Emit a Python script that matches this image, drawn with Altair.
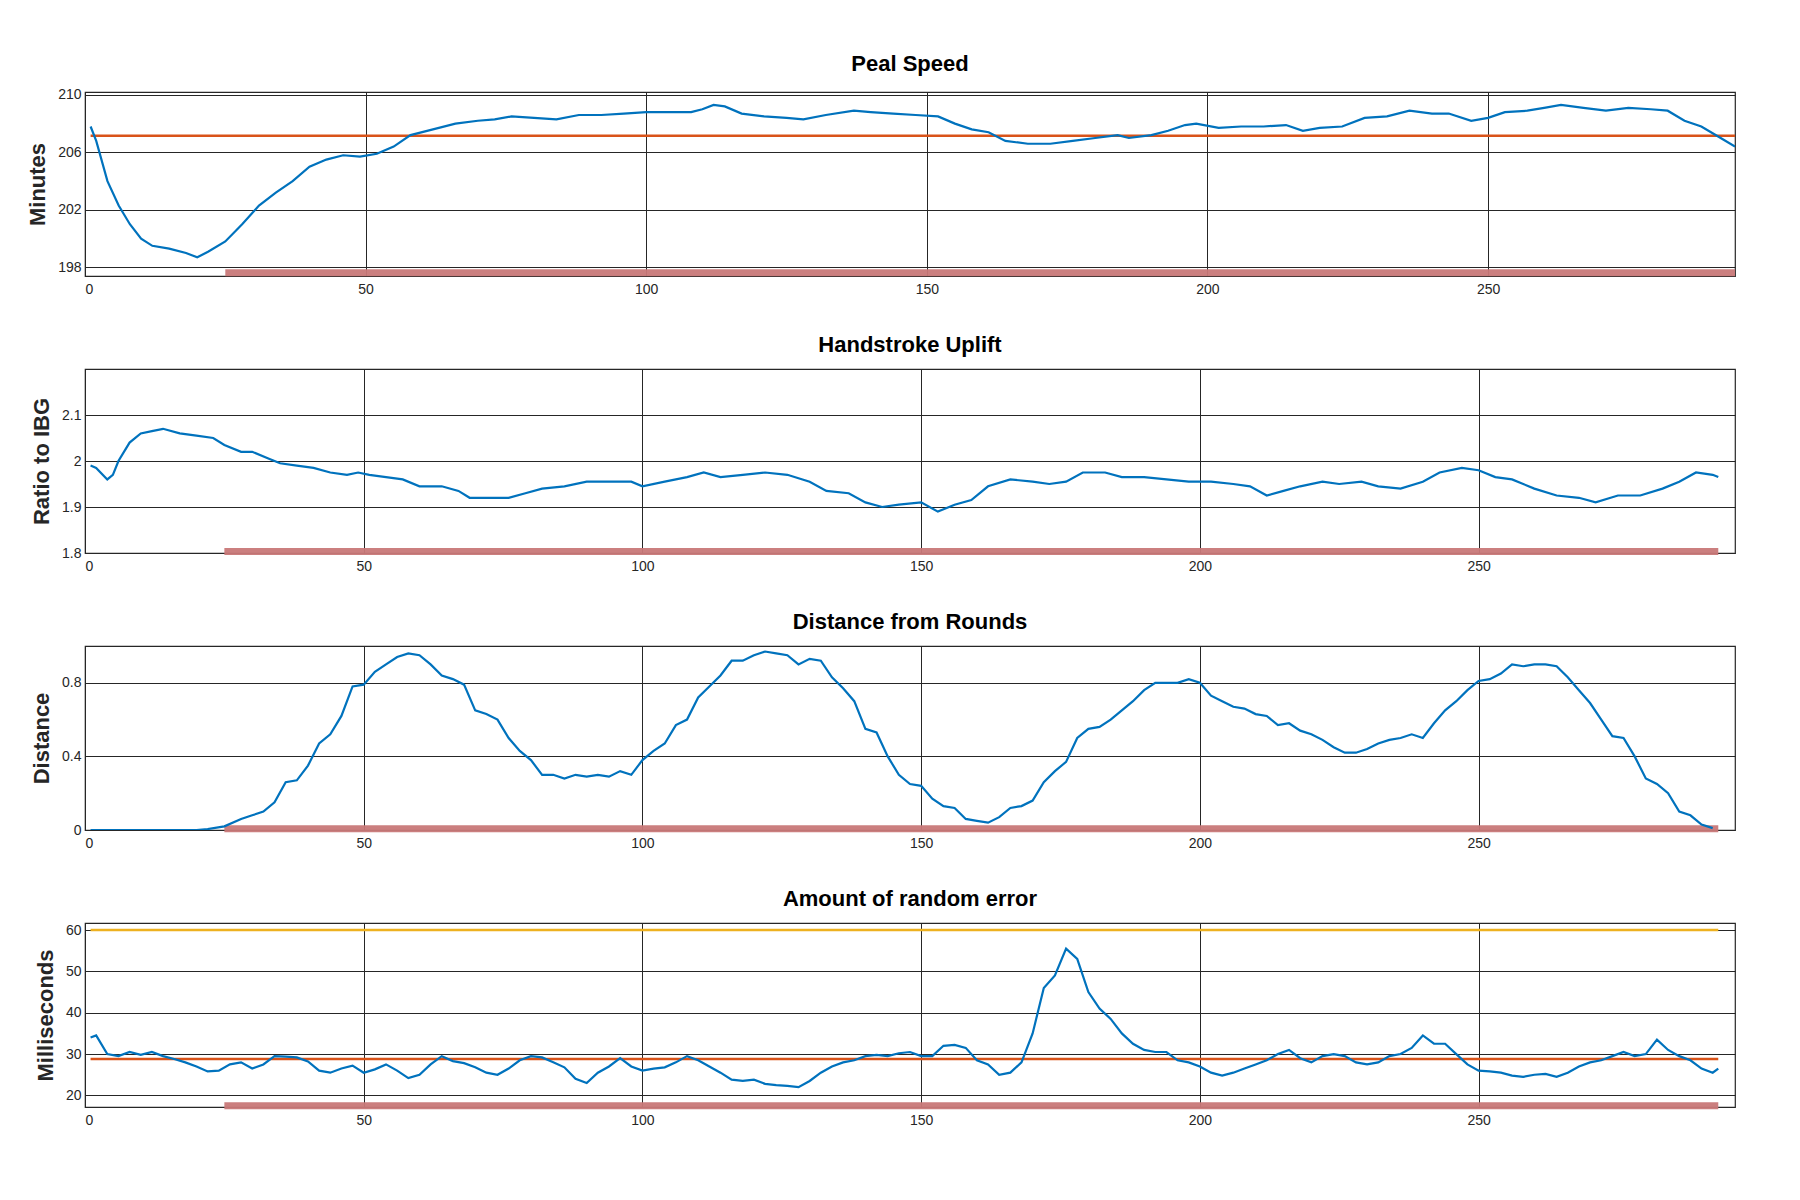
import altair as alt
import pandas as pd

# Peal Speed (minutes)
speed_x = [1, 2, 4, 6, 8, 10, 12, 15, 18, 20, 22, 25, 28, 31, 34, 37, 40, 43, 46, 49, 52, 55, 58, 62, 66, 70, 73, 76, 80, 84, 88, 92, 96, 100, 104, 108, 110, 112, 114, 117, 121, 125, 128, 132, 137, 140, 144, 148, 152, 155, 158, 161, 164, 168, 172, 176, 180, 184, 186, 190, 193, 196, 198, 202, 206, 210, 214, 217, 220, 224, 228, 232, 236, 240, 243, 247, 250, 253, 257, 260, 263, 267, 271, 275, 279, 282, 285, 288, 291, 294]
speed_y = [207.8, 206.8, 204, 202.3, 201, 200, 199.5, 199.3, 199, 198.7, 199.1, 199.8, 201, 202.3, 203.2, 204, 205, 205.5, 205.8, 205.7, 205.9, 206.4, 207.2, 207.6, 208, 208.2, 208.3, 208.5, 208.4, 208.3, 208.6, 208.6, 208.7, 208.8, 208.8, 208.8, 209, 209.3, 209.2, 208.7, 208.5, 208.4, 208.3, 208.6, 208.9, 208.8, 208.7, 208.6, 208.5, 208, 207.6, 207.4, 206.8, 206.6, 206.6, 206.8, 207, 207.2, 207.0, 207.2, 207.5, 207.9, 208, 207.7, 207.8, 207.8, 207.9, 207.5, 207.7, 207.8, 208.4, 208.5, 208.9, 208.7, 208.7, 208.2, 208.4, 208.8, 208.9, 209.1, 209.3, 209.1, 208.9, 209.1, 209.0, 208.9, 208.2, 207.8, 207.1, 206.4]

# Handstroke Uplift (ratio to IBG)
uplift_x = [1, 2, 4, 5, 6, 8, 10, 12, 14, 17, 20, 23, 25, 28, 30, 33, 35, 38, 41, 44, 47, 49, 51, 54, 57, 60, 64, 67, 69, 72, 76, 79, 82, 86, 90, 94, 98, 100, 104, 108, 111, 114, 118, 122, 126, 130, 133, 137, 140, 143, 146, 150, 153, 156, 159, 162, 166, 170, 173, 176, 179, 183, 186, 190, 194, 198, 202, 206, 209, 212, 215, 218, 222, 225, 229, 232, 236, 240, 243, 247, 250, 253, 256, 260, 264, 268, 271, 275, 279, 283, 286, 289, 292, 293]
uplift_y = [1.99, 1.985, 1.96, 1.97, 2.0, 2.04, 2.06, 2.065, 2.07, 2.06, 2.055, 2.05, 2.035, 2.02, 2.02, 2.005, 1.995, 1.99, 1.985, 1.975, 1.97, 1.975, 1.97, 1.965, 1.96, 1.945, 1.945, 1.935, 1.92, 1.92, 1.92, 1.93, 1.94, 1.945, 1.955, 1.955, 1.955, 1.945, 1.955, 1.965, 1.975, 1.965, 1.97, 1.975, 1.97, 1.955, 1.935, 1.93, 1.91, 1.9, 1.905, 1.91, 1.89, 1.905, 1.915, 1.945, 1.96, 1.955, 1.95, 1.955, 1.975, 1.975, 1.965, 1.965, 1.96, 1.955, 1.955, 1.95, 1.945, 1.925, 1.935, 1.945, 1.955, 1.95, 1.955, 1.945, 1.94, 1.955, 1.975, 1.985, 1.98, 1.965, 1.96, 1.94, 1.925, 1.92, 1.91, 1.925, 1.925, 1.94, 1.955, 1.975, 1.97, 1.965]

# Distance from Rounds
dist_x = [1, 10, 20, 22, 25, 28, 30, 32, 34, 36, 38, 40, 42, 44, 46, 48, 50, 52, 54, 56, 58, 60, 62, 64, 66, 68, 70, 72, 74, 76, 78, 80, 82, 84, 86, 88, 90, 92, 94, 96, 98, 100, 102, 104, 106, 108, 110, 112, 114, 116, 118, 120, 122, 124, 126, 128, 130, 132, 134, 136, 138, 140, 142, 144, 146, 148, 150, 152, 154, 156, 158, 160, 162, 164, 166, 168, 170, 172, 174, 176, 178, 180, 182, 184, 186, 188, 190, 192, 194, 196, 198, 200, 202, 204, 206, 208, 210, 212, 214, 216, 218, 220, 222, 224, 226, 228, 230, 232, 234, 236, 238, 240, 242, 244, 246, 248, 250, 252, 254, 256, 258, 260, 262, 264, 266, 268, 270, 272, 274, 276, 278, 280, 282, 284, 286, 288, 290, 292]
dist_y = [0, 0, 0, 0.005, 0.02, 0.06, 0.08, 0.1, 0.15, 0.26, 0.27, 0.35, 0.47, 0.52, 0.62, 0.78, 0.79, 0.86, 0.9, 0.94, 0.96, 0.95, 0.9, 0.84, 0.82, 0.79, 0.65, 0.63, 0.6, 0.5, 0.43, 0.38, 0.3, 0.3, 0.28, 0.3, 0.29, 0.3, 0.29, 0.32, 0.3, 0.38, 0.43, 0.47, 0.57, 0.6, 0.72, 0.78, 0.84, 0.92, 0.92, 0.95, 0.97, 0.96, 0.95, 0.9, 0.93, 0.92, 0.83, 0.77, 0.7, 0.55, 0.53, 0.4, 0.3, 0.25, 0.24, 0.17, 0.13, 0.12, 0.06, 0.05, 0.04, 0.07, 0.12, 0.13, 0.16, 0.26, 0.32, 0.37, 0.5, 0.55, 0.56, 0.6, 0.65, 0.7, 0.76, 0.8, 0.8, 0.8, 0.82, 0.8, 0.73, 0.7, 0.67, 0.66, 0.63, 0.62, 0.57, 0.58, 0.54, 0.52, 0.49, 0.45, 0.42, 0.42, 0.44, 0.47, 0.49, 0.5, 0.52, 0.5, 0.58, 0.65, 0.7, 0.76, 0.81, 0.82, 0.85, 0.9, 0.89, 0.9, 0.9, 0.89, 0.83, 0.76, 0.69, 0.6, 0.51, 0.5, 0.4, 0.28, 0.25, 0.2, 0.1, 0.08, 0.03, 0.01]

# Amount of random error (ms)
err_x = [1] + list(range(2, 293, 2)) + [293]
err_y = [34, 34.5, 30, 29.5, 30.5, 29.8, 30.5, 29.5, 28.8, 28, 27, 25.8, 26, 27.5, 28, 26.5, 27.5, 29.5, 29.4, 29.2, 28.2, 26, 25.5, 26.5, 27.2, 25.5, 26.3, 27.5, 26, 24.2, 25, 27.5, 29.5, 28.3, 27.8, 26.8, 25.5, 25, 26.5, 28.5, 29.5, 29.2, 28, 26.8, 24, 23, 25.5, 27, 29, 27, 26, 26.5, 26.8, 28, 29.5, 28.5, 27, 25.5, 23.8, 23.5, 23.8, 22.8, 22.5, 22.3, 22, 23.5, 25.5, 27, 28, 28.5, 29.5, 29.8, 29.5, 30.2, 30.5, 29.5, 29.5, 32, 32.2, 31.5, 28.5, 27.5, 25, 25.5, 28, 35, 46, 49, 55.5, 53, 45, 41, 38.5, 35, 32.5, 31, 30.5, 30.5, 28.5, 28, 27, 25.5, 24.8, 25.5, 26.5, 27.5, 28.5, 30, 31, 29, 28, 29.5, 30, 29.5, 28, 27.5, 28, 29.5, 30, 31.5, 34.5, 32.5, 32.5, 30, 27.5, 26, 25.8, 25.5, 24.8, 24.5, 25, 25.2, 24.5, 25.5, 27, 28, 28.5, 29.5, 30.5, 29.5, 30, 33.5, 31, 29.5, 28.5, 26.5, 25.5, 26.5]

BLUE = '#0072BD'
RED = '#D95319'
GOLD = '#EDB120'
PINK = '#C87878'
FONT = 'Liberation Sans'
W, H = 1650, 184


def panel(title, ytitle, xs, ys, xmax, ydom, yticks, yfmt, band_y, band_end, refs):
    df = pd.DataFrame({'x': xs, 'y': ys})
    xsc = alt.Scale(domain=[0, xmax], nice=False, zero=False)
    ysc = alt.Scale(domain=ydom, nice=False, zero=False)
    line = alt.Chart(df).mark_line(color=BLUE, strokeWidth=2.2, clip=True).encode(
        x=alt.X('x:Q', scale=xsc, title=None,
                axis=alt.Axis(values=[0, 50, 100, 150, 200, 250], ticks=False,
                              labelPadding=6, gridColor='#262626', gridOpacity=1)),
        y=alt.Y('y:Q', scale=ysc, title=ytitle,
                axis=alt.Axis(values=yticks, format=yfmt, ticks=False, labelPadding=4,
                              labelOverlap=False, labelBound=False,
                              gridColor='#262626', gridOpacity=1, titleFontSize=22,
                              titleFontWeight='bold', titlePadding=8)),
    )
    band = alt.Chart(pd.DataFrame({'x': [25], 'x2': [band_end], 'y': [band_y]})).mark_rule(
        color=PINK, strokeWidth=7, opacity=0.95).encode(x='x:Q', x2='x2:Q', y='y:Q')
    layers = [band]
    for val, col, x1, x2 in refs:
        layers.append(alt.Chart(pd.DataFrame({'x': [x1], 'x2': [x2], 'y': [val]})).mark_rule(
            color=col, strokeWidth=2.5).encode(x='x:Q', x2='x2:Q', y='y:Q'))
    layers.append(line)
    return alt.layer(*layers).properties(
        width=W, height=H,
        title=alt.TitleParams(title, fontSize=22, fontWeight='bold', font=FONT, offset=12))


p1 = panel('Peal Speed', 'Minutes', speed_x, speed_y, 294, [197.4, 210.2],
           [198, 200, 202, 204, 206, 208, 210], 'd', 197.62, 294, [(207.15, RED, 1, 294)])
p2 = panel('Handstroke Uplift', 'Ratio to IBG', uplift_x, uplift_y, 296, [1.8, 2.2],
           [1.8, 1.9, 2, 2.1], '.1~f', 1.803, 293, [])
p3 = panel('Distance from Rounds', 'Distance', dist_x, dist_y, 296, [0, 1],
           [0, 0.2, 0.4, 0.6, 0.8, 1], '.1~f', 0.007, 293, [])
p4 = panel('Amount of random error', 'Milliseconds', err_x, err_y, 296, [17.2, 61.7],
           [20, 30, 40, 50, 60], 'd', 17.5, 293, [(60, GOLD, 1, 293), (28.8, RED, 1, 293)])

chart = alt.vconcat(p1, p2, p3, p4, spacing=36).resolve_scale(y='independent').configure_view(
    stroke='#262626', strokeWidth=1.2
).configure_axis(
    labelFont=FONT, titleFont=FONT, labelFontSize=14, labelColor='#262626',
    titleColor='#262626', domain=False
).properties(padding={'left': 18, 'top': 44, 'right': 20, 'bottom': 10})

chart.save("out.html", embed_options={"renderer": "svg", "actions": False})
